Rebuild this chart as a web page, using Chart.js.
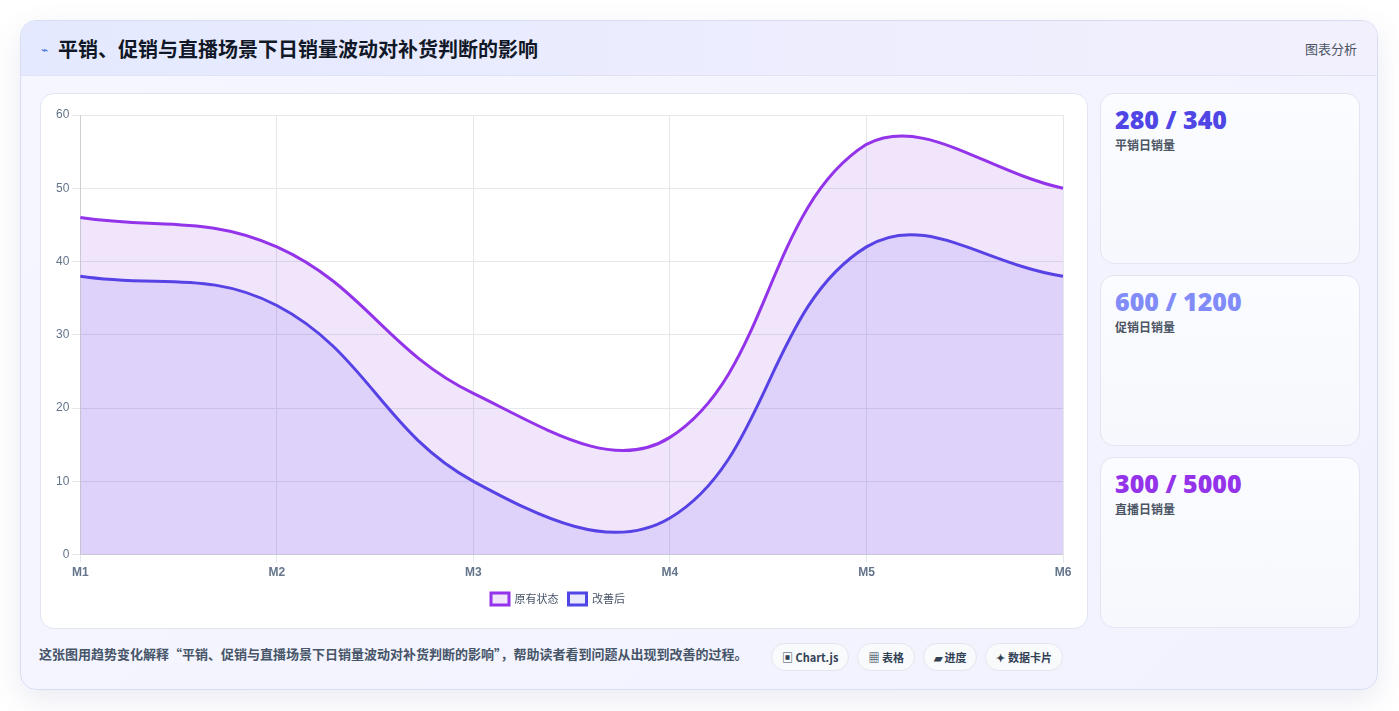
<!DOCTYPE html>
<html>
<head>
<meta charset="utf-8">
<script src="https://cdn.jsdelivr.net/npm/chart.js"></script>
<style>
body { margin: 0; background: #fff; font-family: "Noto Sans CJK SC", "Noto Sans", sans-serif; width: 1399px; height: 711px; overflow: hidden; }
.outer { position: absolute; left: 20px; top: 20px; width: 1356px; height: 668px; border: 1px solid #d9ddf3; border-radius: 16px; background: linear-gradient(135deg, #f5f6ff, #f1f2fd); box-shadow: 0 10px 30px rgba(80,90,150,0.12); overflow: hidden; }
.head { height: 54px; border-bottom: 1px solid #dfe3f5; background: linear-gradient(90deg, #e4e9ff, #f3f0fd); display: flex; align-items: center; padding: 0 20px; }
.head .t { font-size: 20px; font-weight: 700; color: #111827; }
.head .ic { color: #3b6fd8; font-size: 12px; margin-right: 10px; }
.head .r { margin-left: auto; font-size: 13px; color: #4b5563; }
.chartbox { position: absolute; left: 19px; top: 72px; width: 1046px; height: 534px; background: #fff; border: 1px solid #e1e5f0; border-radius: 14px; }
.side { position: absolute; left: 1079px; width: 258px; height: 169px; border: 1px solid #e1e6f2; border-radius: 14px; background: linear-gradient(180deg, #fbfcff, #f6f8fd); }
.side .v { margin: 8px 0 0 14px; font-size: 25px; font-weight: 800; font-family: "Open Sans", sans-serif; }
.side .l { margin: 0 0 0 14px; font-size: 12px; color: #4b5563; font-weight: 600; }
.foot { position: absolute; left: 18px; top: 623px; font-size: 13px; color: #475569; font-weight: 600; }
.tags { position: absolute; left: 750px; top: 622px; display: flex; gap: 8px; }
.tag { border: 1px solid #e2e6ef; border-radius: 15px; background: #f8fafc; padding: 5px 10px; font-size: 11px; font-weight: 700; color: #334155; }
</style>
</head>
<body>
<div class="outer">
  <div class="head"><span class="ic">⌁</span><span class="t">平销、促销与直播场景下日销量波动对补货判断的影响</span><span class="r">图表分析</span></div>
  <div class="chartbox"><canvas id="c"></canvas></div>
  <div class="side" style="top:72px"><div class="v" style="color:#4f46e5">280 / 340</div><div class="l">平销日销量</div></div>
  <div class="side" style="top:254px"><div class="v" style="color:#818cf8">600 / 1200</div><div class="l">促销日销量</div></div>
  <div class="side" style="top:436px"><div class="v" style="color:#9333ea">300 / 5000</div><div class="l">直播日销量</div></div>
  <div class="foot">这张图用趋势变化解释“平销、促销与直播场景下日销量波动对补货判断的影响”，帮助读者看到问题从出现到改善的过程。</div>
  <div class="tags"><span class="tag">▣ Chart.js</span><span class="tag">▦ 表格</span><span class="tag">▰ 进度</span><span class="tag">✦ 数据卡片</span></div>
</div>
<script>
const labels = ["M1", "M2", "M3", "M4", "M5", "M6"];
const before = [46, 42, 22, 16, 56, 50];
const after = [38, 34, 10, 5, 42, 38];
const yTicks = { min: 0, max: 60, step: 10 };

const cv = document.getElementById('c');
cv.style.width = '1046px'; cv.style.height = '534px';

new Chart(cv, {
  type: 'line',
  data: {
    labels,
    datasets: [
      { label: '原有状态', data: before, borderColor: '#9333ea', backgroundColor: 'rgba(147,51,234,0.13)', fill: true, tension: 0.4, borderWidth: 3, pointRadius: 0 },
      { label: '改善后', data: after, borderColor: '#4f46e5', backgroundColor: 'rgba(99,102,241,0.14)', fill: true, tension: 0.4, borderWidth: 3, pointRadius: 0 }
    ]
  },
  options: {
    responsive: false, animation: false,
    layout: { padding: { left: 12, right: 24, top: 21, bottom: 13 } },
    plugins: {
      legend: { position: 'bottom', labels: { boxWidth: 18, boxHeight: 12, font: { size: 11, family: 'Noto Sans CJK SC' }, color: '#475569' } },
      tooltip: { enabled: false }
    },
    scales: {
      x: { grid: { color: '#e5e7eb' }, ticks: { color: '#64748b', font: { size: 12, weight: 'bold' } } },
      y: { min: yTicks.min, max: yTicks.max, grid: { color: '#e5e7eb' }, ticks: { stepSize: yTicks.step, color: '#64748b', font: { size: 12 } } }
    }
  }
});
</script>
</body>
</html>
